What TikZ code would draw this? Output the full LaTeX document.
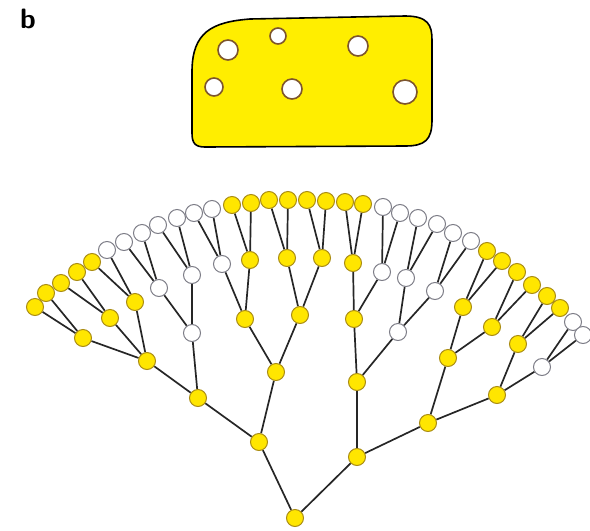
\documentclass[tikz,border=0pt]{standalone}
\usetikzlibrary{backgrounds}
\definecolor{leafyellow}{RGB}{255,230,0}
\definecolor{leafrim}{RGB}{170,140,20}
\definecolor{blobyellow}{RGB}{255,238,0}
\definecolor{holerim}{RGB}{125,85,45}
\definecolor{palerim}{RGB}{125,125,135}
\tikzset{
  x=1pt, y=-1pt,
  ynode/.style={circle, inner sep=0pt, minimum size=17pt, fill=leafyellow, draw=leafrim, line width=1pt},
  wnode/.style={circle, inner sep=0pt, minimum size=17pt, fill=white, draw=palerim, line width=1pt},
  branch/.style={draw=black!85, line width=1.7pt},
  hole/.style={fill=white, draw=holerim, line width=1.6pt},
}
\begin{document}
\begin{tikzpicture}
\useasboundingbox (0,0) rectangle (590,531);

% panel label
\node[anchor=south west, inner sep=0pt, font=\sffamily\bfseries\fontsize{28}{32}\selectfont] (label) at (20,29) {b};

% yellow blob with holes
\draw[fill=blobyellow, draw=black, line width=1.6pt]
  (192,72) .. controls (192,32) and (212,22) .. (250,19)
  -- (405,16) .. controls (428,16) and (432,25) .. (432,40)
  -- (432,120) .. controls (432,140) and (425,146) .. (405,146)
  -- (205,147) .. controls (195,147) and (192,143) .. (192,133) -- cycle;
\draw[hole] (228,50) circle (10);
\draw[hole] (278,36) circle (8);
\draw[hole] (358,46) circle (10);
\draw[hole] (214,87) circle (9);
\draw[hole] (292,89) circle (10);
\draw[hole] (405,92) circle (12);

% tree: root and inner nodes
\node[ynode] (n) at (295,518) {};
\node[ynode] (n0) at (259,442) {};
\node[ynode] (n1) at (357,457) {};
\node[ynode] (n00) at (198,398) {};
\node[ynode] (n01) at (276,372) {};
\node[ynode] (n000) at (147,361) {};
\node[wnode] (n001) at (192,333) {};
\node[ynode] (n0000) at (83,338) {};
\node[ynode] (n0001) at (110,318) {};
\node[ynode] (n0002) at (135,302) {};
\node[wnode] (n0010) at (159,288) {};
\node[wnode] (n0011) at (192,275) {};
\node[ynode] (n010) at (245,319) {};
\node[wnode] (n0100) at (222,264) {};
\node[ynode] (n0101) at (250,260) {};
\node[ynode] (n011) at (300,315) {};
\node[ynode] (n0110) at (287,258) {};
\node[ynode] (n0111) at (322,258) {};
\node[ynode] (n10) at (357,382) {};
\node[ynode] (n100) at (354,319) {};
\node[ynode] (n1000) at (353,263) {};
\node[wnode] (n1001) at (382,272) {};
\node[wnode] (n101) at (398,332) {};
\node[wnode] (n1010) at (406,278) {};
\node[wnode] (n1011) at (435,291) {};
\node[ynode] (n11) at (428,423) {};
\node[ynode] (n110) at (448,358) {};
\node[ynode] (n1100) at (463,307) {};
\node[ynode] (n1101) at (492,327) {};
\node[ynode] (n111) at (497,395) {};
\node[ynode] (n1110) at (518,344) {};
\node[wnode] (n1111) at (542,367) {};

% leaves along the arc
\node[ynode] (l1) at (35,307) {};
\node[ynode] (l2) at (46,293) {};
\node[ynode] (l3) at (61,283) {};
\node[ynode] (l4) at (77,272) {};
\node[ynode] (l5) at (92,262) {};
\node[wnode] (l6) at (107,250) {};
\node[wnode] (l7) at (124,242) {};
\node[wnode] (l8) at (142,233) {};
\node[wnode] (l9) at (158,225) {};
\node[wnode] (l10) at (177,218) {};
\node[wnode] (l11) at (194,213) {};
\node[wnode] (l12) at (212,209) {};
\node[ynode] (l13) at (232,205) {};
\node[ynode] (l14) at (251,203) {};
\node[ynode] (l15) at (269,200) {};
\node[ynode] (l16) at (288,200) {};
\node[ynode] (l17) at (307,200) {};
\node[ynode] (l18) at (326,201) {};
\node[ynode] (l19) at (345,202) {};
\node[ynode] (l20) at (363,204) {};
\node[wnode] (l21) at (383,207) {};
\node[wnode] (l22) at (400,213) {};
\node[wnode] (l23) at (418,218) {};
\node[wnode] (l24) at (437,224) {};
\node[wnode] (l25) at (453,233) {};
\node[wnode] (l26) at (471,241) {};
\node[ynode] (l27) at (487,251) {};
\node[ynode] (l28) at (502,261) {};
\node[ynode] (l29) at (517,272) {};
\node[ynode] (l30) at (532,285) {};
\node[ynode] (l31) at (547,296) {};
\node[ynode] (l32) at (560,308) {};
\node[wnode] (l33) at (573,322) {};
\node[wnode] (l34) at (583,335) {};

% branches
\begin{scope}[on background layer]
\foreach \p/\c in {n/n0, n/n1,
  n0/n00, n0/n01, n00/n000, n00/n001,
  n000/n0000, n000/n0001, n000/n0002,
  n001/n0010, n001/n0011,
  n01/n010, n01/n011, n010/n0100, n010/n0101, n011/n0110, n011/n0111,
  n1/n10, n1/n11, n10/n100, n10/n101,
  n100/n1000, n100/n1001, n101/n1010, n101/n1011,
  n11/n110, n11/n111, n110/n1100, n110/n1101, n111/n1110, n111/n1111,
  n0000/l1, n0000/l2, n0001/l3, n0001/l4, n0002/l5, n0002/l6,
  n0010/l7, n0010/l8, n0011/l9, n0011/l10,
  n0100/l11, n0100/l12, n0101/l13, n0101/l14,
  n0110/l15, n0110/l16, n0111/l17, n0111/l18,
  n1000/l19, n1000/l20, n1001/l21, n1001/l22,
  n1010/l23, n1010/l24, n1011/l25, n1011/l26,
  n1100/l27, n1100/l28, n1101/l29, n1101/l30,
  n1110/l31, n1110/l32, n1111/l33, n1111/l34}
  \draw[branch] (\p) -- (\c);
\end{scope}
\end{tikzpicture}
\end{document}
